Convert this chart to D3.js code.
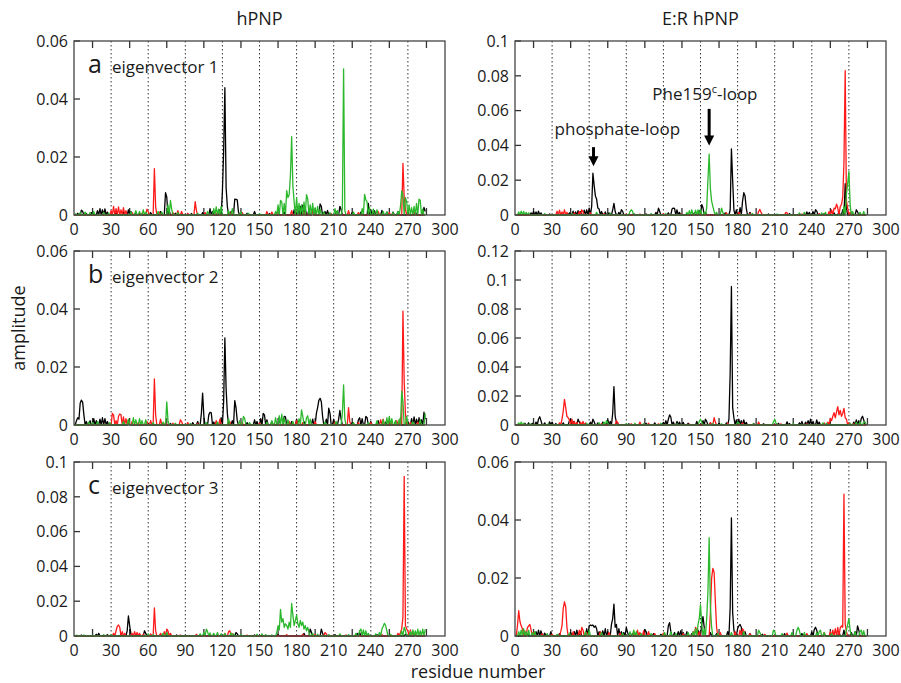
<!DOCTYPE html>
<html>
<head>
<meta charset="utf-8">
<script src="https://cdn.jsdelivr.net/npm/d3@7/dist/d3.min.js"></script>
<style>
  body { margin: 0; background: #fff; }
  svg { display: block; font-family: "Open Sans", "Noto Sans", sans-serif; fill: #1a1a1a; }
  .frame { fill: none; stroke: #444; stroke-width: 1.3; }
  .grid { stroke: #333; stroke-width: 1; stroke-dasharray: 1.5, 2.5; }
  .tick { stroke: #333; stroke-width: 1.3; }
  .tl { font-size: 16px; }
  .series { fill: none; stroke-width: 1.3; stroke-linejoin: round; }
</style>
</head>
<body>
<div id="container"></div>
<script>
// residue -> amplitude, only residues that stand out from zero are listed
var aBlack = [[3,0.0006],[6,0.0017],[7,0.0012],[10,0.0005],[14,0.0008],[19,0.0015],[21,0.0022],[23,0.0018],[25,0.0021],[27,0.001],[34,0.0008],[40,0.0012],[44,0.0018],[46,0.0012],[50,0.0009],[53,0.0006],[62,0.0008],[70,0.0012],[74,0.0077],[75,0.0062],[77,0.0015],[82,0.0006],[95,0.0005],[104,0.0008],[110,0.0022],[112,0.0012],[118,0.0018],[120,0.008],[121,0.022],[122,0.0439],[123,0.0094],[124,0.003],[127,0.0012],[130,0.0055],[131,0.0054],[132,0.0052],[133,0.001],[140,0.0006],[146,0.0012],[158,0.0005],[170,0.001],[178,0.0018],[181,0.0028],[183,0.003],[185,0.0034],[187,0.0024],[190,0.002],[193,0.0018],[199,0.0038],[200,0.003],[203,0.0012],[205,0.0016],[212,0.0012],[215,0.003],[216,0.0018],[225,0.0009],[232,0.001],[238,0.004],[240,0.0018],[243,0.0015],[249,0.0016],[253,0.001],[258,0.001],[262,0.0012],[270,0.0012],[276,0.0012],[283,0.0026],[284,0.0012]];
var aRed = [[30,0.0015],[32,0.003],[34,0.0022],[36,0.0028],[38,0.0018],[40,0.0025],[42,0.0015],[47,0.0008],[55,0.0006],[59,0.002],[60,0.0012],[65,0.016],[66,0.003],[69,0.001],[80,0.0008],[84,0.0015],[87,0.0012],[92,0.0006],[98,0.0046],[99,0.0015],[106,0.0008],[115,0.0006],[126,0.0008],[136,0.0008],[156,0.0012],[160,0.001],[164,0.0008],[176,0.0015],[186,0.001],[193,0.0015],[208,0.0005],[222,0.0015],[230,0.0008],[246,0.0012],[255,0.0008],[266,0.0178],[267,0.006],[268,0.002],[275,0.0008]];
var aGreen = [[1,0.0006],[5,0.0008],[9,0.001],[13,0.0008],[16,0.0012],[24,0.0008],[28,0.0006],[46,0.001],[50,0.0015],[53,0.0012],[56,0.0018],[58,0.001],[68,0.0012],[71,0.001],[76,0.0035],[78,0.005],[79,0.002],[84,0.0008],[100,0.0006],[108,0.0012],[113,0.0022],[115,0.0028],[117,0.002],[119,0.003],[125,0.0015],[128,0.0022],[135,0.001],[141,0.0006],[150,0.0005],[163,0.0012],[165,0.0035],[167,0.005],[168,0.0045],[170,0.004],[172,0.0084],[173,0.006],[174,0.007],[175,0.0135],[176,0.027],[177,0.01],[178,0.0045],[180,0.006],[182,0.004],[184,0.0035],[186,0.0045],[188,0.007],[189,0.0055],[191,0.0035],[193,0.004],[195,0.0025],[197,0.003],[199,0.002],[202,0.001],[207,0.0008],[211,0.0022],[213,0.0015],[217,0.0022],[218,0.0504],[219,0.0015],[226,0.001],[233,0.0022],[235,0.0071],[236,0.0052],[237,0.0045],[239,0.0025],[242,0.002],[245,0.0018],[250,0.0012],[253,0.001],[258,0.0008],[262,0.0012],[264,0.003],[265,0.0083],[266,0.007],[268,0.006],[269,0.0045],[271,0.0035],[273,0.0025],[275,0.003],[277,0.004],[279,0.0055],[280,0.005],[282,0.002]];

var bBlack = [[2,0.0015],[3,0.0025],[4,0.002],[5,0.0075],[6,0.0086],[7,0.0078],[8,0.0035],[10,0.0012],[13,0.0015],[16,0.0022],[18,0.0015],[21,0.002],[23,0.0025],[25,0.0022],[27,0.0012],[44,0.0008],[60,0.0006],[78,0.0005],[96,0.0008],[100,0.0012],[103,0.004],[104,0.011],[105,0.003],[109,0.0035],[110,0.0044],[111,0.0042],[113,0.001],[119,0.0025],[121,0.008],[122,0.030],[123,0.0125],[124,0.004],[128,0.0015],[130,0.0084],[131,0.006],[132,0.0015],[140,0.0008],[146,0.0018],[148,0.0012],[151,0.0022],[153,0.004],[154,0.0035],[156,0.0018],[160,0.0012],[166,0.0025],[170,0.003],[171,0.0028],[176,0.0012],[180,0.002],[186,0.0012],[193,0.002],[196,0.004],[197,0.006],[198,0.0085],[199,0.0092],[200,0.008],[201,0.003],[204,0.002],[206,0.0058],[207,0.004],[210,0.002],[214,0.002],[215,0.005],[216,0.002],[225,0.0008],[230,0.0018],[231,0.0025],[233,0.0022],[236,0.003],[237,0.0025],[240,0.0012],[246,0.0015],[252,0.001],[260,0.0012],[264,0.0018],[270,0.0012],[273,0.0022],[275,0.0028],[277,0.002],[279,0.0025],[281,0.0018],[283,0.0044],[284,0.002]];
var bRed = [[31,0.004],[32,0.0035],[34,0.0015],[36,0.003],[37,0.0038],[38,0.0035],[40,0.0028],[42,0.0022],[44,0.0018],[47,0.0012],[52,0.0008],[59,0.0012],[62,0.0015],[65,0.0159],[66,0.0035],[70,0.002],[74,0.0008],[80,0.0006],[86,0.0018],[87,0.0012],[92,0.0008],[100,0.0005],[115,0.0015],[118,0.002],[126,0.0012],[136,0.0008],[150,0.0006],[160,0.001],[174,0.0012],[180,0.0015],[185,0.0008],[195,0.0012],[211,0.001],[222,0.006],[223,0.0012],[230,0.0008],[240,0.0008],[248,0.0018],[250,0.002],[256,0.0012],[261,0.0015],[264,0.0025],[266,0.0393],[267,0.015],[268,0.004],[272,0.0008],[278,0.001]];
var bGreen = [[12,0.001],[15,0.0008],[19,0.0012],[29,0.0008],[40,0.0012],[44,0.002],[48,0.0025],[50,0.0018],[53,0.0022],[55,0.0015],[58,0.0018],[64,0.0008],[72,0.001],[75,0.008],[76,0.0015],[82,0.0006],[94,0.0005],[107,0.0008],[116,0.001],[125,0.0022],[134,0.0015],[137,0.003],[138,0.0022],[142,0.0008],[156,0.001],[160,0.0015],[163,0.0025],[166,0.0032],[168,0.0037],[170,0.0025],[173,0.0018],[177,0.0012],[182,0.0022],[184,0.0052],[185,0.003],[188,0.0025],[189,0.0032],[191,0.002],[203,0.001],[212,0.0012],[217,0.004],[218,0.0138],[219,0.002],[226,0.0008],[238,0.0008],[245,0.0015],[250,0.0018],[253,0.0025],[255,0.003],[257,0.0022],[260,0.0015],[263,0.002],[265,0.0117],[266,0.008],[269,0.003],[274,0.0012],[280,0.0018],[284,0.004]];

var cBlack = [[6,0.0005],[18,0.001],[20,0.0015],[27,0.0008],[38,0.001],[43,0.003],[44,0.0115],[45,0.006],[46,0.0012],[52,0.0008],[57,0.003],[58,0.0015],[70,0.001],[83,0.0006],[105,0.0008],[119,0.001],[131,0.002],[132,0.0012],[146,0.0006],[165,0.0008],[186,0.0015],[191,0.004],[192,0.002],[200,0.004],[201,0.0015],[211,0.0008],[229,0.0015],[231,0.002],[245,0.0008],[268,0.001],[276,0.0008]];
var cRed = [[32,0.0015],[34,0.003],[35,0.0055],[36,0.0063],[37,0.005],[39,0.0025],[41,0.0015],[47,0.0015],[49,0.0025],[51,0.002],[53,0.0015],[56,0.001],[62,0.0012],[65,0.0162],[66,0.003],[70,0.0015],[73,0.0025],[75,0.004],[76,0.003],[78,0.0015],[86,0.0006],[99,0.001],[110,0.0006],[122,0.0015],[125,0.0025],[126,0.003],[128,0.0012],[140,0.0005],[172,0.0008],[185,0.001],[195,0.0008],[203,0.002],[204,0.0012],[220,0.0006],[249,0.0008],[262,0.0015],[264,0.002],[265,0.004],[266,0.011],[267,0.0917],[268,0.006],[269,0.004],[270,0.003],[272,0.0035],[274,0.0025],[276,0.0015]];
var cGreen = [[2,0.0005],[8,0.0006],[15,0.0005],[24,0.0008],[30,0.0008],[60,0.0012],[64,0.0008],[72,0.0015],[75,0.002],[102,0.0012],[105,0.002],[107,0.004],[108,0.0025],[110,0.0018],[113,0.0015],[116,0.002],[119,0.0012],[122,0.0015],[127,0.0018],[129,0.0012],[135,0.0008],[148,0.001],[152,0.0012],[155,0.0008],[160,0.0006],[164,0.002],[165,0.006],[166,0.0035],[167,0.0153],[168,0.008],[169,0.01],[170,0.005],[171,0.007],[172,0.006],[173,0.004],[174,0.008],[175,0.005],[176,0.0187],[177,0.012],[178,0.006],[179,0.009],[180,0.012],[181,0.007],[182,0.005],[183,0.009],[184,0.006],[185,0.008],[186,0.004],[187,0.006],[188,0.003],[189,0.005],[190,0.002],[193,0.0015],[197,0.001],[206,0.0008],[215,0.0012],[222,0.0008],[228,0.0015],[231,0.003],[232,0.004],[234,0.0035],[236,0.003],[238,0.0015],[244,0.0012],[247,0.002],[249,0.004],[250,0.0055],[251,0.0073],[252,0.006],[253,0.003],[256,0.001],[265,0.003],[267,0.005],[268,0.003],[272,0.0025],[274,0.0035],[276,0.003],[278,0.004],[280,0.003],[282,0.004],[284,0.0038]];

var dBlack = [[13,0.0012],[15,0.002],[17,0.0018],[19,0.0022],[21,0.0012],[28,0.0006],[44,0.0012],[47,0.0022],[49,0.0018],[51,0.0025],[53,0.002],[56,0.0028],[58,0.003],[60,0.004],[62,0.005],[63,0.024],[64,0.017],[65,0.011],[66,0.009],[67,0.004],[68,0.0035],[70,0.002],[73,0.0018],[76,0.0012],[79,0.003],[80,0.0067],[81,0.002],[84,0.0015],[86,0.003],[87,0.0022],[96,0.0008],[106,0.0006],[114,0.0015],[116,0.004],[117,0.002],[124,0.0012],[127,0.0035],[128,0.004],[129,0.0038],[131,0.003],[133,0.0015],[140,0.0008],[145,0.0012],[149,0.0025],[151,0.006],[152,0.0042],[154,0.0015],[170,0.0012],[174,0.003],[175,0.038],[176,0.02],[177,0.003],[179,0.003],[182,0.0042],[184,0.008],[185,0.0128],[186,0.011],[187,0.004],[190,0.0015],[205,0.0006],[222,0.0008],[236,0.0018],[238,0.0015],[241,0.002],[243,0.003],[244,0.0022],[250,0.0008],[258,0.0012],[262,0.002],[265,0.003],[267,0.018],[268,0.004],[272,0.0015],[276,0.003],[277,0.0018]];
var dRed = [[34,0.0022],[36,0.0028],[38,0.0018],[40,0.003],[42,0.0015],[48,0.0012],[52,0.002],[54,0.003],[55,0.0018],[61,0.0012],[72,0.0008],[90,0.0006],[101,0.0005],[120,0.0008],[135,0.0006],[150,0.001],[171,0.0012],[181,0.0015],[190,0.0008],[197,0.002],[198,0.0032],[199,0.0015],[219,0.0015],[220,0.0012],[232,0.0006],[246,0.0008],[254,0.002],[256,0.003],[258,0.004],[259,0.0035],[260,0.0063],[261,0.004],[263,0.005],[264,0.006],[265,0.01],[266,0.03],[267,0.083],[268,0.008],[269,0.004],[271,0.0015]];
var dGreen = [[3,0.0018],[5,0.0022],[7,0.002],[9,0.0015],[11,0.0012],[24,0.0008],[46,0.0008],[66,0.0015],[77,0.001],[93,0.002],[94,0.003],[95,0.0022],[110,0.0008],[122,0.0008],[139,0.0015],[141,0.0025],[143,0.003],[146,0.0028],[148,0.003],[150,0.0032],[153,0.0015],[155,0.004],[156,0.02],[157,0.035],[158,0.015],[159,0.008],[160,0.005],[161,0.002],[163,0.0015],[167,0.004],[168,0.0015],[192,0.0008],[212,0.0006],[230,0.0012],[234,0.0015],[248,0.0012],[251,0.0015],[266,0.005],[268,0.012],[269,0.018],[270,0.025],[271,0.006],[273,0.002],[279,0.0015],[282,0.002]];

var eBlack = [[8,0.0012],[11,0.0015],[14,0.0012],[17,0.002],[19,0.004],[20,0.0057],[21,0.003],[24,0.0015],[28,0.0022],[30,0.002],[33,0.001],[39,0.0015],[44,0.003],[45,0.004],[47,0.0025],[51,0.004],[52,0.002],[57,0.0012],[61,0.002],[63,0.004],[64,0.0022],[67,0.0015],[71,0.002],[75,0.0035],[77,0.0025],[79,0.008],[80,0.0265],[81,0.006],[82,0.002],[92,0.0008],[106,0.0012],[113,0.0015],[120,0.0018],[122,0.003],[124,0.004],[125,0.007],[126,0.0055],[128,0.002],[131,0.0025],[133,0.002],[136,0.0018],[140,0.0012],[147,0.0025],[152,0.003],[154,0.004],[155,0.0025],[158,0.0015],[165,0.0012],[171,0.0015],[173,0.004],[174,0.036],[175,0.0955],[176,0.012],[177,0.005],[179,0.0035],[181,0.004],[183,0.003],[185,0.0035],[187,0.0018],[193,0.001],[201,0.0008],[213,0.0012],[220,0.0022],[222,0.001],[230,0.0015],[232,0.0025],[235,0.002],[237,0.003],[239,0.004],[241,0.0025],[244,0.0035],[246,0.002],[250,0.0012],[270,0.0015],[274,0.002],[276,0.0035],[278,0.003],[280,0.0045],[281,0.006],[282,0.0035]];
var eRed = [[36,0.0015],[38,0.004],[39,0.0095],[40,0.0177],[41,0.012],[42,0.006],[43,0.005],[44,0.0035],[46,0.004],[48,0.0025],[50,0.0018],[53,0.002],[55,0.0025],[57,0.0012],[70,0.0008],[82,0.003],[83,0.0018],[94,0.0008],[101,0.002],[108,0.0012],[116,0.0008],[141,0.0006],[158,0.0015],[161,0.005],[162,0.002],[172,0.0012],[184,0.0015],[197,0.002],[215,0.0008],[236,0.0008],[250,0.0012],[253,0.002],[255,0.0045],[256,0.003],[257,0.006],[258,0.0085],[259,0.005],[260,0.009],[261,0.0127],[262,0.007],[263,0.01],[264,0.006],[265,0.008],[266,0.0115],[267,0.005],[268,0.004],[270,0.0015],[274,0.0008]];
var eGreen = [[3,0.0015],[5,0.002],[7,0.0012],[12,0.001],[27,0.0008],[58,0.0012],[68,0.0015],[72,0.002],[74,0.003],[75,0.0015],[90,0.0008],[97,0.0012],[104,0.0008],[118,0.0012],[131,0.0008],[149,0.0025],[150,0.004],[151,0.002],[160,0.001],[167,0.0008],[180,0.002],[181,0.0015],[193,0.0008],[209,0.002],[210,0.004],[211,0.0015],[225,0.0008],[249,0.0015],[252,0.0012],[271,0.0012],[276,0.0018],[279,0.0022],[282,0.002],[283,0.0022]];

var fBlack = [[10,0.0008],[17,0.0015],[19,0.002],[21,0.0018],[24,0.001],[29,0.0015],[36,0.0008],[45,0.0012],[48,0.0015],[50,0.002],[53,0.0015],[58,0.0025],[60,0.0035],[61,0.0038],[62,0.0036],[63,0.0038],[64,0.003],[65,0.0035],[66,0.0025],[68,0.0015],[71,0.0018],[73,0.0025],[75,0.0015],[78,0.004],[79,0.006],[80,0.011],[81,0.003],[82,0.004],[84,0.0025],[86,0.0015],[88,0.0012],[90,0.003],[91,0.0012],[95,0.0008],[105,0.0022],[106,0.0015],[112,0.0008],[118,0.0006],[124,0.0035],[125,0.0046],[126,0.0015],[129,0.0012],[132,0.0015],[134,0.0018],[136,0.0012],[139,0.0015],[143,0.0008],[148,0.002],[151,0.004],[152,0.0067],[153,0.003],[158,0.0012],[163,0.0008],[172,0.0015],[174,0.01],[175,0.0407],[176,0.008],[177,0.002],[180,0.0025],[181,0.0035],[182,0.004],[183,0.003],[186,0.0015],[190,0.0008],[200,0.0006],[218,0.0008],[232,0.0008],[240,0.0015],[242,0.0022],[243,0.003],[244,0.002],[250,0.0008],[262,0.0015],[266,0.002],[272,0.0012],[275,0.0015],[277,0.0035],[278,0.002]];
var fRed = [[2,0.0035],[3,0.0087],[4,0.005],[5,0.0035],[6,0.0025],[8,0.0018],[10,0.0028],[11,0.0035],[12,0.004],[13,0.002],[15,0.0012],[22,0.0008],[30,0.0006],[37,0.0015],[38,0.0035],[39,0.0095],[40,0.0118],[41,0.01],[42,0.003],[47,0.0015],[52,0.002],[54,0.003],[55,0.002],[58,0.0012],[69,0.0015],[76,0.0012],[85,0.001],[96,0.0015],[99,0.002],[101,0.0012],[104,0.0018],[108,0.0015],[113,0.0008],[120,0.001],[136,0.0008],[144,0.0015],[146,0.003],[147,0.002],[149,0.0015],[158,0.008],[159,0.02],[160,0.0233],[161,0.022],[162,0.012],[163,0.003],[166,0.0012],[178,0.0015],[182,0.002],[184,0.0025],[185,0.0018],[190,0.0008],[202,0.0006],[220,0.001],[236,0.0008],[250,0.0012],[255,0.0015],[257,0.002],[259,0.0025],[261,0.003],[263,0.0028],[264,0.0035],[265,0.003],[266,0.0489],[267,0.004],[268,0.0015]];
var fGreen = [[3,0.0015],[5,0.002],[7,0.0025],[9,0.0015],[11,0.002],[14,0.0012],[16,0.0015],[26,0.0008],[34,0.0006],[44,0.001],[57,0.0015],[60,0.002],[70,0.0012],[87,0.001],[93,0.0015],[96,0.002],[98,0.0015],[102,0.0008],[110,0.0008],[121,0.0012],[126,0.0015],[130,0.0008],[140,0.0012],[144,0.0015],[146,0.0025],[148,0.004],[149,0.006],[150,0.0108],[151,0.004],[153,0.0025],[155,0.006],[156,0.015],[157,0.0339],[158,0.01],[159,0.003],[164,0.0008],[175,0.0012],[185,0.0015],[197,0.002],[198,0.0012],[209,0.002],[210,0.0015],[216,0.0008],[224,0.0012],[228,0.002],[229,0.003],[230,0.0018],[234,0.0012],[244,0.0012],[246,0.0015],[247,0.002],[250,0.0012],[256,0.0008],[268,0.002],[269,0.004],[270,0.006],[271,0.002],[275,0.0015],[279,0.0015],[280,0.002],[282,0.0018]];

var columnTitles = ["hPNP", "E:R hPNP"];
var rowLabels = [["a", "eigenvector 1"], ["b", "eigenvector 2"], ["c", "eigenvector 3"]];
var xTicks = [0, 30, 60, 90, 120, 150, 180, 210, 240, 270, 300];
var gridLines = [30, 60, 90, 120, 150, 180, 210, 240, 270];
var yTicks06 = [0, 0.02, 0.04, 0.06];
var yTicks10 = [0, 0.02, 0.04, 0.06, 0.08, 0.1];
var yTicks12 = [0, 0.02, 0.04, 0.06, 0.08, 0.1, 0.12];
var lastResidue = 284;

var panels = [
	{col: 0, row: 0, ymax: 0.06, yticks: yTicks06, series: [aBlack, aRed, aGreen]},
	{col: 1, row: 0, ymax: 0.1,  yticks: yTicks10, series: [dBlack, dRed, dGreen]},
	{col: 0, row: 1, ymax: 0.06, yticks: yTicks06, series: [bBlack, bRed, bGreen]},
	{col: 1, row: 1, ymax: 0.12, yticks: yTicks12, series: [eBlack, eRed, eGreen]},
	{col: 0, row: 2, ymax: 0.1,  yticks: yTicks10, series: [cBlack, cRed, cGreen]},
	{col: 1, row: 2, ymax: 0.06, yticks: yTicks06, series: [fBlack, fRed, fGreen]}
];
var colors = ["#000000", "#ff1a1a", "#2cb82c"];

var colLeft = [74, 515], plotW = 371;
var rowTop = [41, 251, 462], plotH = 174;

var svg = d3.select("#container").append("svg")
	.attr("width", 901).attr("height", 683);

// expand sparse list to one value per residue
function expand(list){
	var m = new Map(list);
	return d3.range(1, lastResidue + 1).map(function(r){ return [r, m.get(r) || 0]; });
}
function fmt(v){ return v === 0 ? "0" : String(+v.toFixed(2)); }

panels.forEach(function(p){
	var x0 = colLeft[p.col], y0 = rowTop[p.row];
	var x = d3.scaleLinear().domain([0, 300]).range([x0, x0 + plotW]);
	var y = d3.scaleLinear().domain([0, p.ymax]).range([y0 + plotH, y0]);
	var g = svg.append("g");

	g.selectAll(".grid").data(gridLines).enter().append("line")
		.attr("class", "grid")
		.attr("x1", function(d){ return x(d); }).attr("x2", function(d){ return x(d); })
		.attr("y1", y0).attr("y2", y0 + plotH);

	// minor ticks in between grid lines, top and bottom
	var minor = d3.range(15, 300, 30);
	g.selectAll(".tt").data(minor).enter().append("line")
		.attr("class", "tick")
		.attr("x1", function(d){ return x(d); }).attr("x2", function(d){ return x(d); })
		.attr("y1", y0).attr("y2", y0 + 7);
	g.selectAll(".tb").data(minor).enter().append("line")
		.attr("class", "tick")
		.attr("x1", function(d){ return x(d); }).attr("x2", function(d){ return x(d); })
		.attr("y1", y0 + plotH).attr("y2", y0 + plotH - 7);

	g.selectAll(".ty").data(p.yticks).enter().append("line")
		.attr("class", "tick")
		.attr("x1", x0).attr("x2", x0 + 6)
		.attr("y1", function(d){ return y(d); }).attr("y2", function(d){ return y(d); });

	var line = d3.line().x(function(d){ return x(d[0]); }).y(function(d){ return y(d[1]); });
	p.series.forEach(function(s, i){
		g.append("path")
			.attr("class", "series")
			.attr("stroke", colors[i])
			.attr("d", line(expand(s)));
	});

	g.append("rect").attr("class", "frame")
		.attr("x", x0).attr("y", y0).attr("width", plotW).attr("height", plotH);

	g.selectAll(".xl").data(xTicks).enter().append("text")
		.attr("class", "tl")
		.attr("x", function(d){ return x(d); })
		.attr("y", y0 + plotH + 20)
		.attr("text-anchor", "middle")
		.text(function(d){ return d; });

	g.selectAll(".yl").data(p.yticks).enter().append("text")
		.attr("class", "tl")
		.attr("x", x0 - 6)
		.attr("y", function(d){ return y(d); })
		.attr("dy", "0.36em")
		.attr("text-anchor", "end")
		.text(fmt);

	if(p.col === 0){
		g.append("text").attr("x", x0 + 14).attr("y", y0 + 32)
			.style("font-size", "25px").text(rowLabels[p.row][0]);
		g.append("text").attr("x", x0 + 38).attr("y", y0 + 32)
			.style("font-size", "17px").text(rowLabels[p.row][1]);
	}
	if(p.row === 0){
		svg.append("text").attr("x", x0 + plotW / 2).attr("y", 25)
			.attr("text-anchor", "middle").style("font-size", "18px")
			.text(columnTitles[p.col]);
	}

	if(p.col === 1 && p.row === 0){
		// annotations
		var t1 = g.append("text").attr("x", x(32)).attr("y", y(0.046)).style("font-size", "17px");
		t1.text("phosphate-loop");
		arrow(g, x(63.5), y(0.039), y(0.028));

		var t2 = g.append("text").attr("x", x(111)).attr("y", y(0.066)).style("font-size", "17px");
		t2.append("tspan").text("Phe159");
		t2.append("tspan").attr("dy", -7).style("font-size", "11px").text("c");
		t2.append("tspan").attr("dy", 7).text("-loop");
		arrow(g, x(157), y(0.061), y(0.040));
	}
});

function arrow(g, ax, ya, yb){
	g.append("line").attr("x1", ax).attr("x2", ax).attr("y1", ya).attr("y2", yb - 8)
		.attr("stroke", "#000").attr("stroke-width", 3);
	g.append("path")
		.attr("d", "M" + (ax - 5) + "," + (yb - 10) + "L" + (ax + 5) + "," + (yb - 10) + "L" + ax + "," + yb + "Z")
		.attr("fill", "#000");
}

svg.append("text")
	.attr("transform", "translate(25,328) rotate(-90)")
	.attr("text-anchor", "middle").style("font-size", "18px")
	.text("amplitude");
svg.append("text")
	.attr("x", 478).attr("y", 678)
	.attr("text-anchor", "middle").style("font-size", "18px")
	.text("residue number");
</script>
</body>
</html>
